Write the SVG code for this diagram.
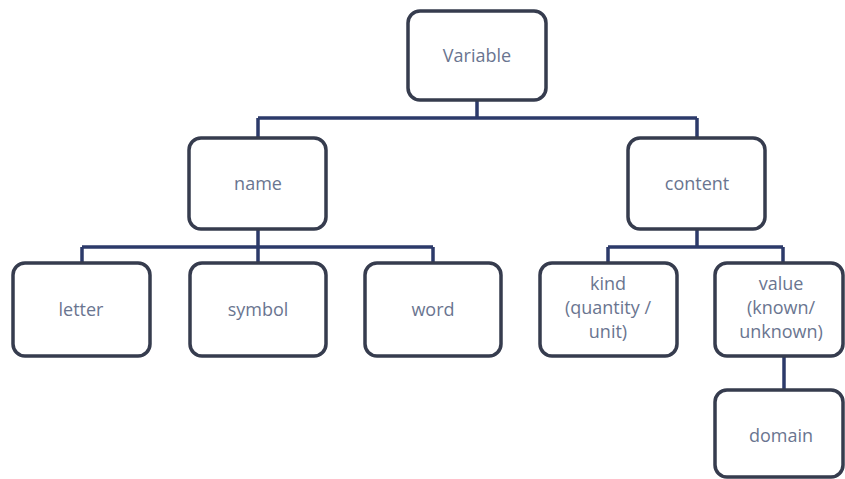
<svg xmlns="http://www.w3.org/2000/svg" width="845" height="479" viewBox="0 0 845 479">
<style>
.box{fill:#fff;stroke:#363c4e;stroke-width:3.5}
.lbl{font-family:"Open Sans","Liberation Sans",sans-serif;font-size:18px;fill:#6a7590;text-anchor:middle}
.ln{stroke:#2c3a6a;stroke-width:3.5;fill:none}
</style>
<rect width="845" height="479" fill="#fff"/>
<g id="connectors">
<path class="ln" d="M477 100V118M258 118H697M258 118V138M697 118V138"/>
<path class="ln" d="M258 229V247M82 247H433M82 247V263M258 247V263M433 247V263"/>
<path class="ln" d="M697 229V247M608 247H783M608 247V263M783 247V263"/>
<path class="ln" d="M784 356V390"/>
</g>
<g id="variable"><rect class="box" x="408" y="11" width="138" height="89" rx="12"/><text class="lbl" x="477" y="62">Variable</text></g>
<g id="name"><rect class="box" x="189" y="138" width="137" height="91" rx="12"/><text class="lbl" x="258" y="190">name</text></g>
<g id="content"><rect class="box" x="628" y="138" width="137" height="91" rx="12"/><text class="lbl" x="697" y="190">content</text></g>
<g id="letter"><rect class="box" x="13" y="263" width="137" height="93" rx="12"/><text class="lbl" x="81" y="316">letter</text></g>
<g id="symbol"><rect class="box" x="190" y="263" width="136" height="93" rx="12"/><text class="lbl" x="258" y="316">symbol</text></g>
<g id="word"><rect class="box" x="365" y="263" width="136" height="93" rx="12"/><text class="lbl" x="433" y="316">word</text></g>
<g id="kind"><rect class="box" x="540" y="263" width="137" height="93" rx="12"/><text class="lbl" x="608" y="290">kind</text><text class="lbl" x="608" y="314">(quantity /</text><text class="lbl" x="608" y="338">unit)</text></g>
<g id="value"><rect class="box" x="715" y="263" width="128" height="93" rx="12"/><text class="lbl" x="781" y="290">value</text><text class="lbl" x="781" y="314">(known/</text><text class="lbl" x="781" y="338">unknown)</text></g>
<g id="domain"><rect class="box" x="715" y="390" width="128" height="87" rx="12"/><text class="lbl" x="781" y="442">domain</text></g>
</svg>
